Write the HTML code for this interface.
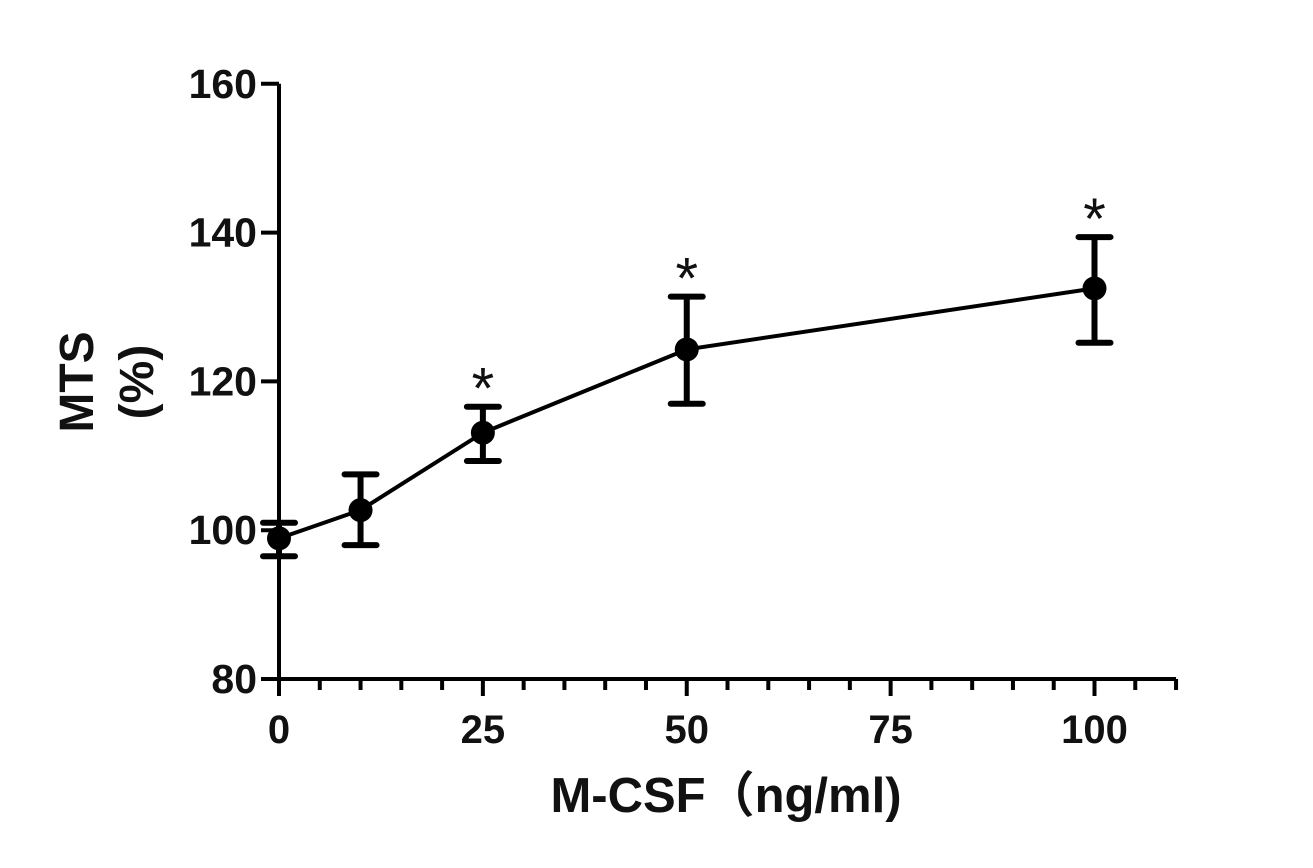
<!DOCTYPE html>
<html><head><meta charset="utf-8"><style>
body{margin:0;background:#fff}
svg text{font-family:"Liberation Sans","Noto Sans CJK SC",sans-serif;font-weight:bold;fill:#111}
</style></head><body>
<svg width="1313" height="863" viewBox="0 0 1313 863">
<g id="axes"></g><g id="series"></g>
</svg>
<script>
const categories=[0,10,25,50,100];
const means=[98.9,102.7,113.1,124.3,132.5];
const errHigh=[101,107.5,116.6,131.4,139.4];
const errLow=[96.5,98,109.3,117,125.2];
const signif=[false,false,true,true,true];
const yTicks=[80,100,120,140,160];
const xTicks=[0,25,50,75,100];
const NS='http://www.w3.org/2000/svg';
const X=v=>279+v*8.155;
const Y=v=>679-(v-80)*7.44;
function mk(t,a,p){const e=document.createElementNS(NS,t);for(const k in a)e.setAttribute(k,a[k]);p.appendChild(e);return e;}
const ax=document.getElementById('axes'),se=document.getElementById('series');
let e;
e=mk('line',{x1:X(0),y1:Y(80),x2:X(0),y2:Y(160),stroke:'#000','stroke-width':4},ax);


e=mk('line',{x1:X(0)-2,y1:Y(80),x2:X(110),y2:Y(80),stroke:'#000','stroke-width':4},ax);


yTicks.forEach(v=>{
 e=mk('line',{x1:X(0)-18,y1:Y(v),x2:X(0),y2:Y(v),stroke:'#000','stroke-width':4},ax);
 
 
 e=mk('text',{x:X(0)-22,y:Y(v)+14,'font-size':41,'text-anchor':'end'},ax);e.textContent=v;
 
 
});
for(let v=0;v<=110;v+=5){
 const major=v%25===0;
 e=mk('line',{x1:X(v),y1:Y(80),x2:X(v),y2:Y(80)+(major?17:11),stroke:'#000','stroke-width':4},ax);
 
 
}
xTicks.forEach(v=>{
 e=mk('text',{x:X(v),y:743,'font-size':40,'text-anchor':'middle'},ax);e.textContent=v;
 
 
});
e=mk('text',{x:726,y:812,'font-size':49,'text-anchor':'middle'},ax);e.textContent='M-CSF（ng/ml)';


e=mk('text',{x:0,y:0,'font-size':48,'text-anchor':'middle',transform:'translate(93,382) rotate(-90)'},ax);e.textContent='MTS';


e=mk('text',{x:0,y:0,'font-size':48,'text-anchor':'middle',transform:'translate(153,382) rotate(-90)'},ax);e.textContent='(%)';


e=mk('polyline',{points:categories.map((c,i)=>X(c)+','+Y(means[i])).join(' '),fill:'none',stroke:'#000','stroke-width':4},se);


categories.forEach((c,i)=>{
 const x=X(c);
 e=mk('path',{d:`M${x},${Y(errHigh[i])}V${Y(errLow[i])}M${x-16},${Y(errHigh[i])}H${x+16}M${x-16},${Y(errLow[i])}H${x+16}`,stroke:'#000','stroke-width':6,fill:'none','stroke-linecap':'round'},se);
 
 
 e=mk('circle',{cx:x,cy:Y(means[i]),r:12,fill:'#000'},se);
 
 
 if(signif[i]){
  e=mk('text',{x:x,y:Y(errHigh[i])+2,'font-size':58,'text-anchor':'middle',style:'font-weight:normal'},se);e.textContent='*';
  
  
 }
});
</script>
</body></html>
